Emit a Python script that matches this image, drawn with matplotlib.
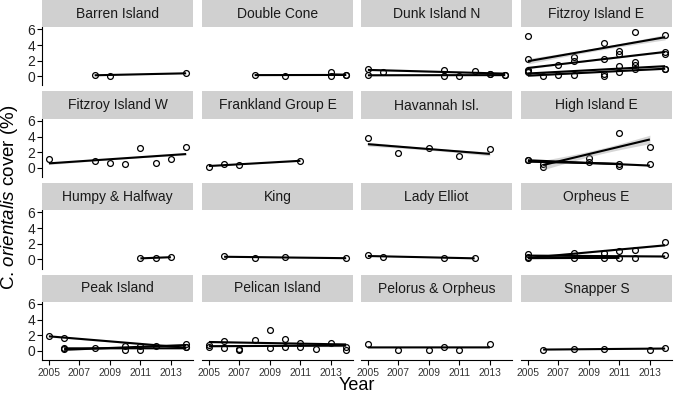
import numpy as np
import matplotlib
matplotlib.use("Agg")
import matplotlib.pyplot as plt
from matplotlib.patches import Rectangle

plt.rcParams['font.family'] = ['Liberation Sans', 'DejaVu Sans']
plt.rcParams['mathtext.fontset'] = 'custom'
plt.rcParams['mathtext.rm'] = 'Liberation Sans'
plt.rcParams['mathtext.it'] = 'Liberation Sans:italic'

# each site: (years, cover %, ribbon half-width at the ends)
barren_island = [([2008, 2009, 2014], [0.2, 0.1, 0.4], 0.05)]
double_cone = [([2008, 2010, 2014], [0.2, 0.1, 0.2], 0.06),
               ([2013, 2013, 2014], [0.5, 0.0, 0.2], 0.06)]
dunk_island_n = [([2005, 2006, 2010, 2012, 2013, 2014], [0.9, 0.55, 0.75, 0.65, 0.3, 0.2], 0.1),
                 ([2005, 2010, 2011, 2013, 2014], [0.2, 0.1, 0.0, 0.25, 0.2], 0.1)]
fitzroy_island_e = [([2005], [5.2], 0),
                    ([2012], [5.6], 0),
                    ([2014], [3.1], 0),
                    ([2005, 2008, 2010, 2011, 2014], [2.2, 2.5, 4.3, 3.2, 5.3], 0.35),
                    ([2005, 2007, 2008, 2010, 2011, 2014], [0.8, 1.5, 2.0, 2.2, 2.8, 2.8], 0.12),
                    ([2005, 2007, 2010, 2011, 2012, 2012, 2014], [0.7, 0.13, 0.35, 1.3, 1.8, 1.0, 1.0], 0.15),
                    ([2005, 2006, 2008, 2010, 2011, 2012, 2014], [0.5, 0.05, 0.2, 0.0, 0.5, 1.4, 1.0], 0.12)]
fitzroy_island_w = [([2005, 2008, 2009, 2010, 2011, 2012, 2013, 2014],
                     [1.07, 0.85, 0.65, 0.5, 2.55, 0.65, 1.15, 2.7], 0.15)]
frankland_group_e = [([2005, 2006, 2007, 2011], [0.13, 0.55, 0.35, 0.9], 0.08)]
havannah_isl = [([2005, 2007, 2009, 2011, 2013], [3.75, 1.85, 2.5, 1.55, 2.35], 0.25)]
high_island_e = [([2006, 2009, 2011, 2013], [0.13, 1.3, 4.4, 2.6], 0.6),
                 ([2005, 2009, 2011, 2013], [1.0, 0.7, 0.2, 0.45], 0.1),
                 ([2005, 2006, 2011], [0.95, 0.55, 0.55], 0.1)]
humpy_halfway = [([2011, 2012, 2013], [0.15, 0.15, 0.3], 0.05)]
king = [([2006, 2008, 2010, 2014], [0.4, 0.15, 0.3, 0.15], 0.05)]
lady_elliot = [([2005, 2006, 2010, 2012], [0.5, 0.3, 0.2, 0.15], 0.05)]
orpheus_e = [([2005, 2008, 2010, 2011, 2012, 2014], [0.35, 0.8, 0.8, 1.1, 1.2, 2.2], 0.12),
             ([2005, 2008, 2012, 2014], [0.66, 0.22, 0.22, 0.57], 0.1),
             ([2005, 2010, 2011], [0.15, 0.22, 0.15], 0.1)]
peak_island = [([2005, 2006, 2012, 2014], [1.95, 1.6, 0.68, 0.45], 0.12),
               ([2006, 2008, 2010, 2014], [0.4, 0.4, 0.05, 0.45], 0.1),
               ([2006, 2010, 2011, 2011, 2014], [0.2, 0.6, 0.05, 0.6, 0.9], 0.1)]
pelican_island = [([2005, 2006, 2008, 2009, 2011, 2013, 2014], [0.77, 0.33, 1.4, 2.6, 0.55, 1.05, 0.13], 0.15),
                  ([2005, 2006, 2007, 2007, 2009, 2010, 2010, 2011, 2012, 2014],
                   [0.55, 1.2, 0.25, 0.05, 0.33, 1.55, 0.55, 1.0, 0.25, 0.55], 0.15)]
pelorus_orpheus = [([2005, 2007, 2009, 2010, 2011, 2013], [0.9, 0.13, 0.13, 0.45, 0.13, 0.9], 0.05)]
snapper_s = [([2006, 2008, 2010, 2013, 2014], [0.13, 0.25, 0.25, 0.13, 0.4], 0.05)]

panel_names = ["Barren Island", "Double Cone", "Dunk Island N", "Fitzroy Island E",
               "Fitzroy Island W", "Frankland Group E", "Havannah Isl.", "High Island E",
               "Humpy & Halfway", "King", "Lady Elliot", "Orpheus E",
               "Peak Island", "Pelican Island", "Pelorus & Orpheus", "Snapper S"]
panel_data = [barren_island, double_cone, dunk_island_n, fitzroy_island_e,
              fitzroy_island_w, frankland_group_e, havannah_isl, high_island_e,
              humpy_halfway, king, lady_elliot, orpheus_e,
              peak_island, pelican_island, pelorus_orpheus, snapper_s]

x_ticks = [2005, 2007, 2009, 2011, 2013]
y_ticks = [0, 2, 4, 6]

W, H = 675, 394
fig = plt.figure(figsize=(W / 100, H / 100), dpi=100)

col_x = [42, 202, 361, 521]
pw, strip_h, ph, row_pitch = 151, 27, 58.5, 91.5

for i, (name, groups) in enumerate(zip(panel_names, panel_data)):
    r, c = divmod(i, 4)
    top = r * row_pitch
    x0 = col_x[c]
    ax = fig.add_axes([x0 / W, 1 - (top + strip_h + ph) / H, pw / W, ph / H])

    # facet strip
    fig.add_artist(Rectangle((x0 / W, 1 - (top + strip_h) / H), pw / W, strip_h / H,
                             transform=fig.transFigure, facecolor='#d0d0d0', edgecolor='none'))
    fig.text((x0 + pw / 2) / W, 1 - (top + strip_h / 2 + 0.5) / H, name,
             ha='center', va='center', fontsize=10, color='#1a1a1a')

    for yrs, vals, band in groups:
        yrs = np.array(yrs, dtype=float)
        vals = np.array(vals, dtype=float)
        ax.plot(yrs, vals, 'o', mfc='none', mec='black', ms=4.2, mew=0.9, zorder=2)
        if len(set(yrs)) < 2:
            continue
        slope, icpt = np.polyfit(yrs, vals, 1)
        xs = np.linspace(yrs.min(), yrs.max(), 60)
        ys = icpt + slope * xs
        n = len(yrs)
        xm = yrs.mean()
        sxx = ((yrs - xm) ** 2).sum()
        shape = np.sqrt(1 / n + (xs - xm) ** 2 / sxx)
        hw = band * shape / shape.max()
        ax.fill_between(xs, ys - hw, ys + hw, color='#999999', alpha=0.4, lw=0, zorder=3)
        ax.plot(xs, ys, color='black', lw=1.5, zorder=4, solid_capstyle='butt')

    ax.set_xlim(2004.55, 2014.45)
    ax.set_ylim(-1.17, 6.3)
    ax.set_xticks(x_ticks)
    ax.set_yticks(y_ticks)
    for s in ['top', 'right']:
        ax.spines[s].set_visible(False)
    ax.spines['left'].set_visible(c == 0)
    ax.spines['bottom'].set_visible(r == 3)
    for s in ['left', 'bottom']:
        ax.spines[s].set_linewidth(0.8)
    ax.tick_params(axis='y', left=(c == 0), labelleft=(c == 0), length=3.5, width=0.8,
                   pad=1.2, labelsize=10, labelcolor='#222222')
    ax.tick_params(axis='x', bottom=(r == 3), labelbottom=(r == 3), length=3.5, width=0.8,
                   pad=2, labelsize=7.4, labelcolor='#333333')
    ax.patch.set_alpha(0)

fig.text(357 / W, 1 - 386 / H, 'Year', ha='center', va='center', fontsize=13)
fig.text(10 / W, 1 - 197 / H, r'C. $\mathit{orientalis}$ cover (%)', ha='center', va='center',
         rotation=90, fontsize=13.5)

fig.savefig('out.png', dpi=100)
